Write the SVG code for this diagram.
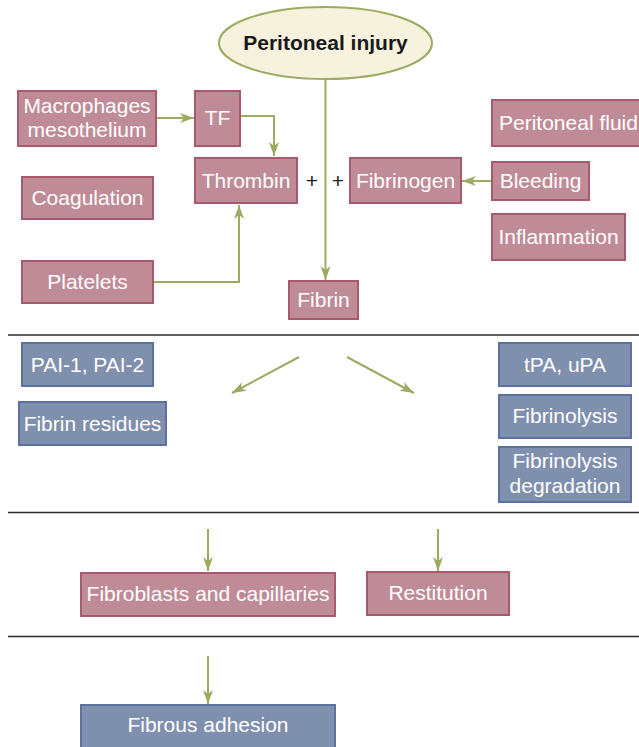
<svg xmlns="http://www.w3.org/2000/svg" width="639" height="747" viewBox="0 0 639 747">
<style>
.pink{fill:#bf8b97;stroke:#a9596f;stroke-width:2}
.blue{fill:#7f8fae;stroke:#5d719e;stroke-width:2}
.t{font-family:"Liberation Sans",Arial,sans-serif;font-size:21px;fill:#ffffff;text-anchor:middle}
.c{fill:none;stroke:#9bab62;stroke-width:2}
.sep{stroke:#2a2a2a;stroke-width:1.5}
.plus{font-family:"Liberation Sans",Arial,sans-serif;font-size:21px;fill:#222222;text-anchor:middle}
</style>
<defs>
<marker id="ah" markerUnits="userSpaceOnUse" markerWidth="16" markerHeight="12" refX="14" refY="5" orient="auto">
<path d="M0,0 L14,5 L0,10 L4,5 z" fill="#9bab62"/>
</marker>
</defs>
<g id="separators">
<line class="sep" x1="8" y1="335" x2="639" y2="335"/>
<line class="sep" x1="8" y1="512.5" x2="639" y2="512.5"/>
<line class="sep" x1="8" y1="636.5" x2="639" y2="636.5"/>
</g>
<g id="connectors">
<line class="c" x1="325.5" y1="79" x2="325.5" y2="280" marker-end="url(#ah)"/>
<line class="c" x1="156" y1="118" x2="194" y2="118" marker-end="url(#ah)"/>
<polyline class="c" points="240,116 274,116 274,156" marker-end="url(#ah)"/>
<polyline class="c" points="153,282 239,282 239,205" marker-end="url(#ah)"/>
<line class="c" x1="492" y1="181" x2="462" y2="181" marker-end="url(#ah)"/>
<line class="c" x1="299" y1="357" x2="232" y2="393" marker-end="url(#ah)"/>
<line class="c" x1="347" y1="357" x2="414" y2="393" marker-end="url(#ah)"/>
<line class="c" x1="208" y1="529" x2="208" y2="571" marker-end="url(#ah)"/>
<line class="c" x1="438" y1="529" x2="438" y2="571" marker-end="url(#ah)"/>
<line class="c" x1="208" y1="656" x2="208" y2="704" marker-end="url(#ah)"/>
</g>
<g id="peritoneal-injury">
<ellipse cx="325.5" cy="43" rx="106.5" ry="36" fill="#f6f2dd" stroke="#9bab62" stroke-width="2"/>
<text x="325.5" y="50" font-family="'Liberation Sans',Arial,sans-serif" font-size="21" font-weight="bold" fill="#1a1a1a" text-anchor="middle">Peritoneal injury</text>
</g>
<g id="macrophages">
<rect class="pink" x="18" y="91" width="138" height="55"/>
<text class="t" x="87" y="113">Macrophages</text>
<text class="t" x="87" y="137">mesothelium</text>
</g>
<g id="tf">
<rect class="pink" x="195" y="91" width="45" height="55"/>
<text class="t" x="217.5" y="124.5">TF</text>
</g>
<g id="thrombin">
<rect class="pink" x="195" y="158" width="102" height="45"/>
<text class="t" x="246" y="188">Thrombin</text>
</g>
<g id="plus-signs">
<text class="plus" x="312" y="188">+</text>
<text class="plus" x="338" y="188">+</text>
</g>
<g id="coagulation">
<rect class="pink" x="22" y="177" width="131" height="42"/>
<text class="t" x="87.5" y="204.5">Coagulation</text>
</g>
<g id="platelets">
<rect class="pink" x="22" y="261" width="131" height="42"/>
<text class="t" x="87.5" y="288.5">Platelets</text>
</g>
<g id="fibrinogen">
<rect class="pink" x="350" y="158" width="111" height="45"/>
<text class="t" x="405.5" y="188">Fibrinogen</text>
</g>
<g id="peritoneal-fluid">
<rect class="pink" x="492" y="100" width="155" height="46"/>
<text class="t" x="499" y="130" style="text-anchor:start">Peritoneal fluid</text>
</g>
<g id="bleeding">
<rect class="pink" x="492" y="162" width="97" height="38"/>
<text class="t" x="540.5" y="187.5">Bleeding</text>
</g>
<g id="inflammation">
<rect class="pink" x="492" y="214" width="133" height="46"/>
<text class="t" x="558.5" y="244">Inflammation</text>
</g>
<g id="fibrin">
<rect class="pink" x="289" y="281" width="69" height="38"/>
<text class="t" x="323.5" y="307">Fibrin</text>
</g>
<g id="pai">
<rect class="blue" x="22" y="343" width="131" height="43"/>
<text class="t" x="87.5" y="371.5">PAI-1, PAI-2</text>
</g>
<g id="fibrin-residues">
<rect class="blue" x="19" y="402" width="147" height="43"/>
<text class="t" x="92.5" y="430.5">Fibrin residues</text>
</g>
<g id="tpa-upa">
<rect class="blue" x="499" y="343" width="132" height="43"/>
<text class="t" x="565" y="371.5">tPA, uPA</text>
</g>
<g id="fibrinolysis">
<rect class="blue" x="499" y="395" width="132" height="43"/>
<text class="t" x="565" y="423">Fibrinolysis</text>
</g>
<g id="fibrinolysis-degradation">
<rect class="blue" x="499" y="447" width="132" height="55"/>
<text class="t" x="565" y="467.5">Fibrinolysis</text>
<text class="t" x="565" y="492.5">degradation</text>
</g>
<g id="fibroblasts">
<rect class="pink" x="81" y="573" width="254" height="43"/>
<text class="t" x="208" y="601">Fibroblasts and capillaries</text>
</g>
<g id="restitution">
<rect class="pink" x="367" y="572" width="142" height="43"/>
<text class="t" x="438" y="599.5">Restitution</text>
</g>
<g id="fibrous-adhesion">
<rect class="blue" x="81" y="705" width="254" height="46"/>
<text class="t" x="208" y="732">Fibrous adhesion</text>
</g>
</svg>
